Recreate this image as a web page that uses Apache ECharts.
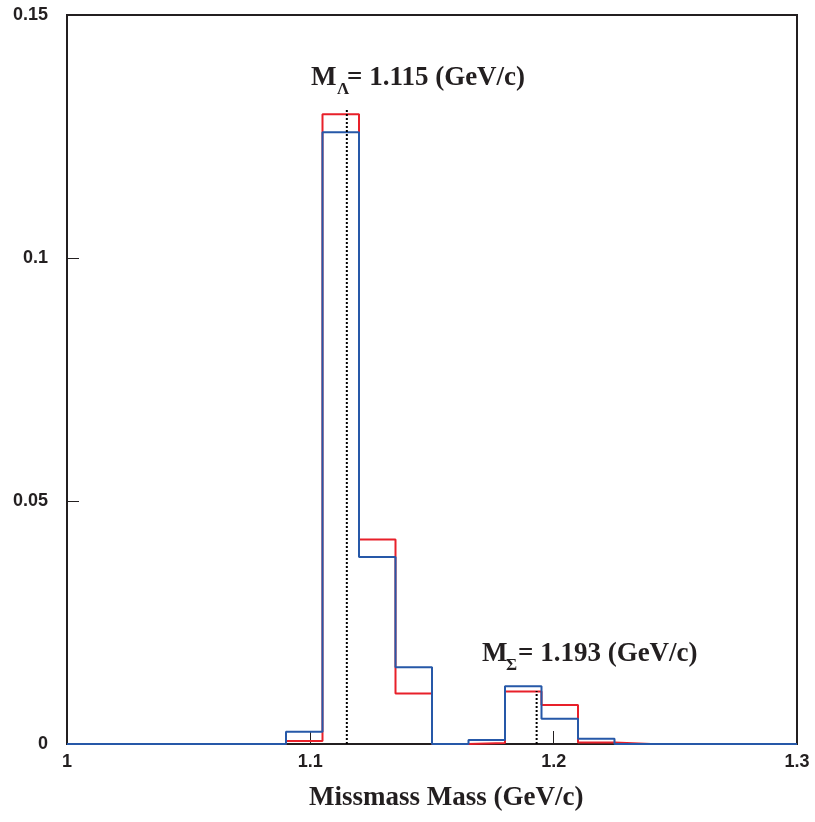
<!DOCTYPE html>
<html>
<head>
<meta charset="utf-8">
<script src="https://cdn.jsdelivr.net/npm/echarts@6/dist/echarts.min.js"></script>
<style>
html,body{margin:0;padding:0;background:#fff;}
#c{width:815px;height:822px;}
</style>
</head>
<body>
<div id="c"></div>
<script>
// Histogram bin edges: start, width, count
const binStart = 1.0;
const binWidth = 0.015;
const xTicks = ['1', '1.1', '1.2', '1.3'];
const yTicks = ['0', '0.05', '0.1', '0.15'];
// bin contents (20 bins from 1.0 to 1.3)
const redValues  = [0, 0, 0, 0, 0, 0, 0.0006, 0.1296, 0.0421, 0.0104, 0, 0.0002, 0.0108, 0.0080, 0.0003, 0, 0, 0, 0, 0];
const blueValues = [0, 0, 0, 0, 0, 0, 0.0025, 0.1259, 0.0385, 0.0158, 0, 0.0008, 0.0119, 0.0052, 0.0011, 0, 0, 0, 0, 0];
// reference mass lines: [mass, height]
const lambdaLine = [1.115, 0.1307];
const sigmaLine  = [1.193, 0.0109];
const lambdaLabel = ['M', 'Λ', '= 1.115 (GeV/c)'];
const sigmaLabel  = ['M', 'Σ', '= 1.193 (GeV/c)'];
const xTitle = 'Missmass Mass (GeV/c)';

function stepData(vals) {
  const d = vals.map((v, i) => [+(binStart + i * binWidth).toFixed(4), v]);
  d.push([+(binStart + vals.length * binWidth).toFixed(4), vals[vals.length - 1]]);
  return d;
}

const chart = echarts.init(document.getElementById('c'));
const axisColor = '#231f20';
const serif = '"Liberation Serif", "Times New Roman", serif';
const sans = '"Liberation Sans", Arial, sans-serif';

chart.setOption({
  animation: false,
  backgroundColor: '#fff',
  grid: { left: 67, right: 18, top: 15, bottom: 78, show: true, borderColor: axisColor, borderWidth: 2, backgroundColor: 'transparent' },
  xAxis: {
    type: 'value', min: 1.0, max: 1.3, interval: 0.1,
    axisLine: { show: true, lineStyle: { color: axisColor, width: 2 } },
    axisTick: { show: true, inside: true, length: 13, lineStyle: { color: axisColor, width: 1 } },
    axisLabel: { color: axisColor, fontFamily: sans, fontWeight: 'bold', fontSize: 18, margin: 9,
      formatter: (v) => xTicks.find(t => Math.abs(parseFloat(t) - v) < 1e-6) || '' },
    splitLine: { show: false }
  },
  yAxis: {
    type: 'value', min: 0, max: 0.15, interval: 0.05,
    axisLine: { show: true, lineStyle: { color: axisColor, width: 2 } },
    axisTick: { show: true, inside: true, length: 12, lineStyle: { color: axisColor, width: 1 } },
    axisLabel: { color: axisColor, fontFamily: sans, fontWeight: 'bold', fontSize: 18, margin: 19,
      formatter: (v) => yTicks.find(t => Math.abs(parseFloat(t) - v) < 1e-9) || '' },
    splitLine: { show: false }
  },
  series: [
    { name: 'red', type: 'line', step: 'end', data: stepData(redValues), symbol: 'none',
      lineStyle: { color: '#e8202a', width: 2 }, z: 3 },
    { name: 'blue', type: 'line', step: 'end', data: stepData(blueValues), symbol: 'none',
      lineStyle: { color: '#2658a8', width: 2 }, z: 4 },
    { name: 'lambda', type: 'line', data: [[lambdaLine[0], 0], [lambdaLine[0], lambdaLine[1]]], symbol: 'none',
      lineStyle: { color: '#000', width: 2, type: [2, 2] }, z: 5 },
    { name: 'sigma', type: 'line', data: [[sigmaLine[0], 0], [sigmaLine[0], sigmaLine[1]]], symbol: 'none',
      lineStyle: { color: '#000', width: 2, type: [2, 2] }, z: 5 }
  ],
  graphic: [
    { type: 'text', left: 311, top: 65, style: { text: lambdaLabel[0], font: 'bold 27px ' + serif, fill: axisColor } },
    { type: 'text', left: 337, top: 81, style: { text: lambdaLabel[1], font: 'bold 17px ' + serif, fill: axisColor } },
    { type: 'text', left: 347, top: 65, style: { text: lambdaLabel[2], font: 'bold 27px ' + serif, fill: axisColor } },
    { type: 'text', left: 482, top: 641, style: { text: sigmaLabel[0], font: 'bold 27px ' + serif, fill: axisColor } },
    { type: 'text', left: 506, top: 657, style: { text: sigmaLabel[1], font: 'bold 17px ' + serif, fill: axisColor } },
    { type: 'text', left: 518, top: 641, style: { text: sigmaLabel[2], font: 'bold 27px ' + serif, fill: axisColor } },
    { type: 'text', left: 309, top: 785, style: { text: xTitle, font: 'bold 27px ' + serif, fill: axisColor } }
  ]
});
</script>
</body>
</html>
